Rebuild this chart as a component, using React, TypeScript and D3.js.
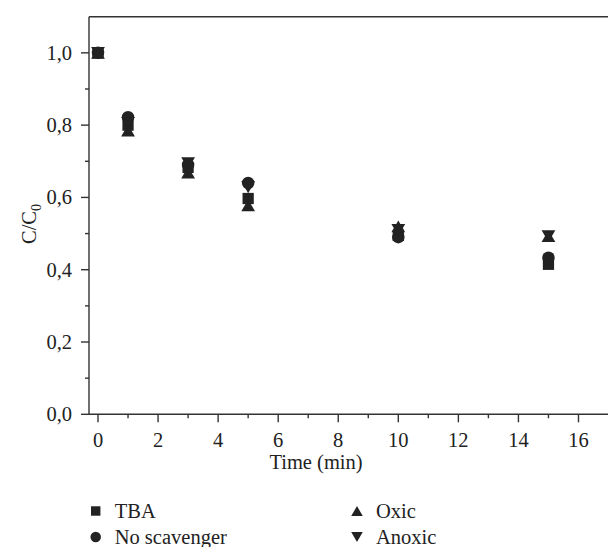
import React from "react";
import * as d3 from "d3";

const times = [0, 1, 3, 5, 10, 15];
const tba = [1.0, 0.8, 0.683, 0.597, 0.495, 0.415];
const noScavenger = [1.0, 0.822, 0.69, 0.64, 0.49, 0.433];
const oxic = [1.0, 0.785, 0.669, 0.578, 0.52, 0.493];
const anoxic = [1.0, 0.806, 0.695, 0.628, 0.51, 0.493];

const seriesNames = ["TBA", "No scavenger", "Oxic", "Anoxic"];
const seriesShapes = ["square", "circle", "triangle", "triangleDown"];
const seriesValues = [tba, noScavenger, oxic, anoxic];

const xMajorTicks = [0, 2, 4, 6, 8, 10, 12, 14, 16];
const xMinorTicks = [1, 3, 5, 7, 9, 11, 13, 15];
const yMajorTicks = [0, 0.2, 0.4, 0.6, 0.8, 1.0];
const yMinorTicks = [0.1, 0.3, 0.5, 0.7, 0.9];

const W = 608;
const H = 547;
const left = 89;
const top = 16.7;
const bottom = 414.3;
const right = 609;
const ink = "#222";
const axisColor = "#333";
const font = "'Liberation Serif', 'Times New Roman', serif";
const fs = 20.5;

function markerPath(shape: string, cx: number, cy: number, s: number): string {
  const h = s / 2;
  const p = d3.path();
  if (shape === "square") {
    p.rect(cx - h * 0.9, cy - h * 0.9, s * 0.9, s * 0.9);
  } else if (shape === "circle") {
    p.moveTo(cx + h, cy);
    p.arc(cx, cy, h, 0, Math.PI * 2);
  } else if (shape === "triangle") {
    const w = s * 1.1 / 2;
    const th = s * 0.95 / 2;
    p.moveTo(cx, cy - th);
    p.lineTo(cx + w, cy + th);
    p.lineTo(cx - w, cy + th);
    p.closePath();
  } else {
    const w = s * 1.1 / 2;
    const th = s * 0.95 / 2;
    p.moveTo(cx - w, cy - th);
    p.lineTo(cx + w, cy - th);
    p.lineTo(cx, cy + th);
    p.closePath();
  }
  return p.toString();
}

export default function App() {
  const x = d3.scaleLinear().domain([-0.3, 17]).range([left, left + 17.3 * 30.03]);
  const y = d3.scaleLinear().domain([0, 1.1]).range([bottom, top]);
  const fmt = (v: number) => d3.format(".1f")(v).replace(".", ",");

  return (
    <svg
      width={W}
      height={H}
      style={{ position: "absolute", left: 0, top: 0, background: "#fff" }}
      fontFamily={font}
    >
      {/* frame */}
      <line x1={left} y1={top} x2={right} y2={top} stroke={axisColor} strokeWidth={1.4} />
      <line x1={left} y1={top} x2={left} y2={bottom} stroke={axisColor} strokeWidth={1.4} />
      <line x1={left} y1={bottom} x2={right} y2={bottom} stroke={axisColor} strokeWidth={1.4} />

      {/* x ticks */}
      {xMajorTicks.map((t) => (
        <g key={"xm" + t}>
          <line x1={x(t)} x2={x(t)} y1={bottom} y2={bottom + 8} stroke={axisColor} strokeWidth={1.4} />
          <text x={x(t)} y={447} fontSize={fs} textAnchor="middle" fill={ink}>
            {t}
          </text>
        </g>
      ))}
      {xMinorTicks.map((t) => (
        <line key={"xn" + t} x1={x(t)} x2={x(t)} y1={bottom} y2={bottom + 4} stroke={axisColor} strokeWidth={1.4} />
      ))}

      {/* y ticks */}
      {yMajorTicks.map((t) => (
        <g key={"ym" + t}>
          <line x1={left - 8} x2={left} y1={y(t)} y2={y(t)} stroke={axisColor} strokeWidth={1.4} />
          <text x={72} y={y(t) + 7} fontSize={fs} textAnchor="end" fill={ink}>
            {fmt(t)}
          </text>
        </g>
      ))}
      {yMinorTicks.map((t) => (
        <line key={"yn" + t} x1={left - 4} x2={left} y1={y(t)} y2={y(t)} stroke={axisColor} strokeWidth={1.4} />
      ))}

      {/* axis titles */}
      <text x={316} y={469} fontSize={fs} textAnchor="middle" fill={ink}>
        Time (min)
      </text>
      <text transform={`translate(36, 224) rotate(-90)`} fontSize={fs} textAnchor="middle" fill={ink}>
        C/C
        <tspan fontSize={14} dy={5}>0</tspan>
      </text>

      {/* markers */}
      {seriesValues.map((vals, si) => (
        <g key={"s" + si}>
          {vals.map((v, i) => (
            <path key={i} d={markerPath(seriesShapes[si], x(times[i]), y(v), 12.5)} fill={ink} />
          ))}
        </g>
      ))}

      {/* legend */}
      {seriesNames.map((name, i) => {
        const col = i < 2 ? 0 : 1;
        const row = i % 2;
        const lx = col === 0 ? 95.7 : 357;
        const ly = 511 + row * 26;
        return (
          <g key={"lg" + i}>
            <path d={markerPath(seriesShapes[i], lx, ly, 10.5)} fill={ink} />
            <text x={lx + 19} y={ly + 6.5} fontSize={fs} fill={ink}>
              {name}
            </text>
          </g>
        );
      })}
    </svg>
  );
}
